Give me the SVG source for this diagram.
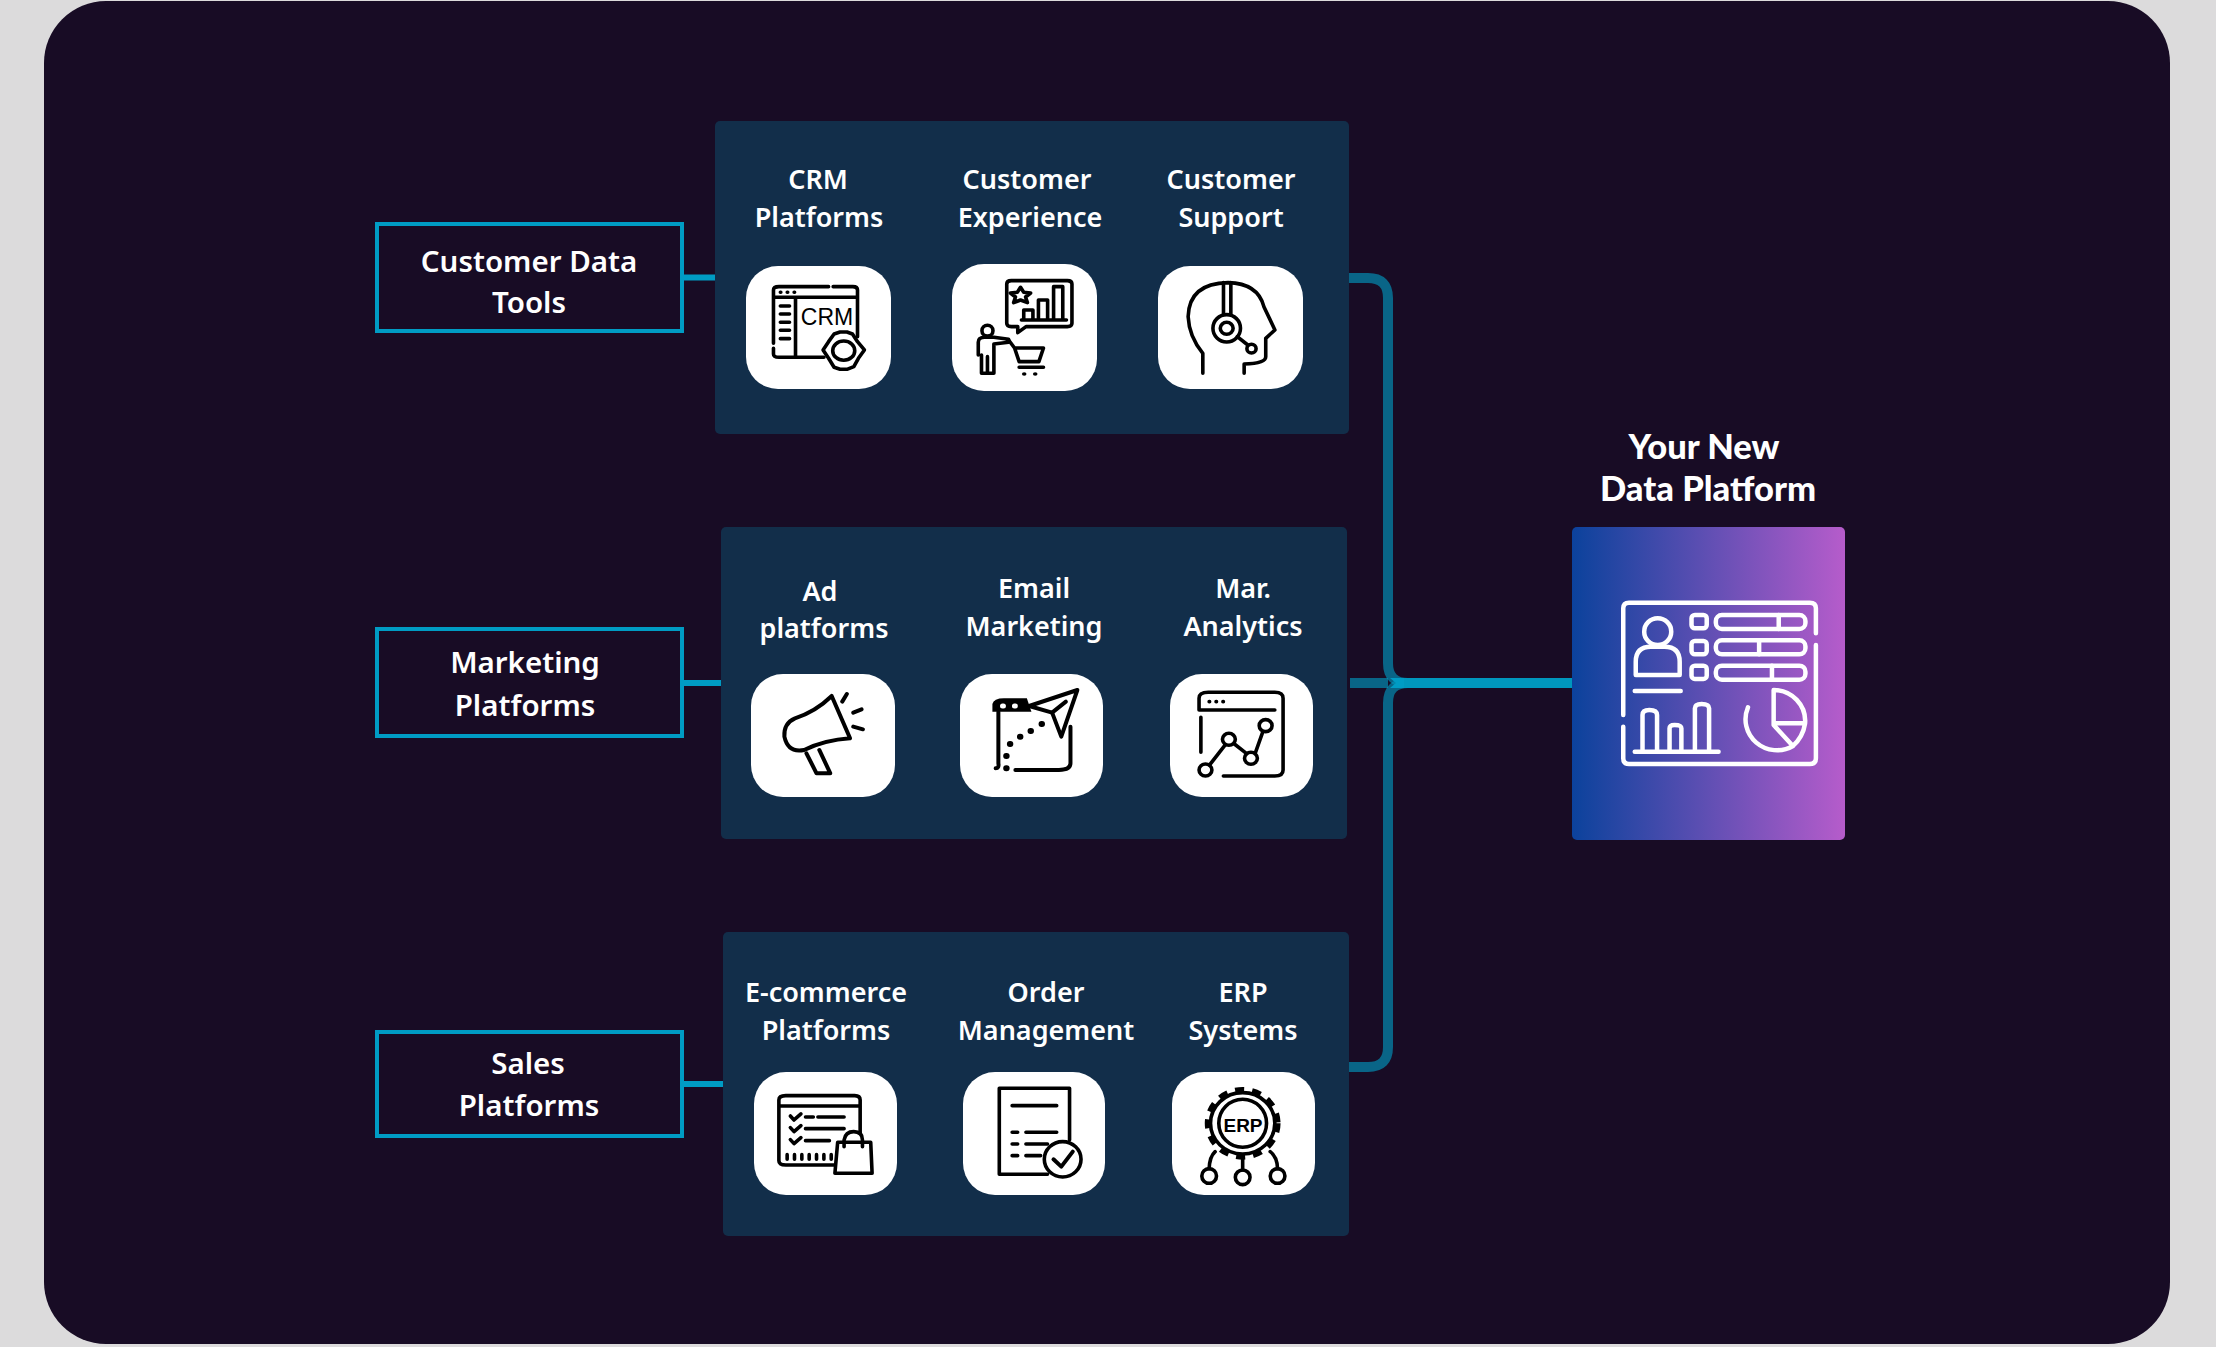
<svg xmlns="http://www.w3.org/2000/svg" width="2216" height="1347" viewBox="0 0 2216 1347">
<style>
.panel{fill:#122e4a}
.tile{fill:#fff}
.lbl{font-family:"Noto Sans","Liberation Sans",sans-serif;font-weight:600;font-size:27px;fill:#fff;text-anchor:middle}
.big{font-family:"Noto Sans","Liberation Sans",sans-serif;font-weight:600;font-size:29.500px;fill:#fff;text-anchor:middle}
.ttl{font-family:Lato,"Liberation Sans",sans-serif;font-weight:900;font-size:34.500px;fill:#fff;text-anchor:middle}
.src{fill:#180c25;stroke:#009cc4;stroke-width:4}
.stub{fill:#009cc4}
.ic *{fill:none;stroke:#000;stroke-width:3.600;stroke-linecap:round;stroke-linejoin:round;vector-effect:non-scaling-stroke}
.ic .w{fill:#fff}
.ic .k{fill:#000;stroke:none}
.di *{fill:none;stroke:#fff;stroke-width:4.500;stroke-linecap:round;stroke-linejoin:round;vector-effect:non-scaling-stroke}
.it{font-family:"Liberation Sans",sans-serif;fill:#000;text-anchor:middle}
.dim{fill:none;stroke:#009cc4;stroke-opacity:.62;stroke-width:10}
</style>
<defs>
<linearGradient id="grad" x1="0" y1="0" x2="1" y2="0"><stop offset="0" stop-color="#0b429c"/><stop offset="1" stop-color="#b65ccb"/></linearGradient>
</defs>
<rect width="2216" height="1347" fill="#dcdbdc"/>
<rect x="44" y="1" width="2126" height="1343" rx="62" fill="#180c25"/>

<g id="connectors">
<rect class="stub" x="684" y="274.500" width="31" height="6"/>
<rect class="stub" x="684" y="680" width="37" height="6"/>
<rect class="stub" x="684" y="1081" width="39" height="6"/>
<path class="dim" d="M1348 278H1368Q1388 278 1388 298V663Q1388 683 1408 683"/>
<path class="dim" d="M1349 1067H1368Q1388 1067 1388 1047V703Q1388 683 1408 683"/>
<path class="dim" d="M1350 683H1388"/>
<path d="M1390 678H1406V688H1390L1396 683Z" fill="#009cc4"/>
<rect x="1404" y="678" width="168" height="10" fill="#0097bd"/>
</g>

<g id="src-customer"><rect class="src" x="377" y="224" width="305" height="107"/><text class="big" x="529" y="272">Customer Data</text><text class="big" x="529" y="313">Tools</text></g>
<g id="src-marketing"><rect class="src" x="377" y="629" width="305" height="107"/><text class="big" x="525" y="673">Marketing</text><text class="big" x="525" y="716">Platforms</text></g>
<g id="src-sales"><rect class="src" x="377" y="1032" width="305" height="104"/><text class="big" x="528" y="1074">Sales</text><text class="big" x="529" y="1116">Platforms</text></g>

<g id="panel-customer">
<rect class="panel" x="715" y="121" width="634" height="313" rx="5"/>
<text class="lbl" x="818" y="189">CRM</text><text class="lbl" x="819" y="227">Platforms</text>
<text class="lbl" x="1027" y="189">Customer</text><text class="lbl" x="1030" y="227">Experience</text>
<text class="lbl" x="1231" y="189">Customer</text><text class="lbl" x="1231" y="227">Support</text>
<rect class="tile" x="746" y="266" width="145" height="123" rx="32"/>
<rect class="tile" x="952" y="264" width="145" height="127" rx="32"/>
<rect class="tile" x="1158" y="266" width="145" height="123" rx="32"/>
</g>
<g id="icon-crm" class="ic" transform="translate(700,110) scale(.4592,.3333)">
<path d="M160 700V540Q160 530 172 530H280M290 530H333Q343 530 343 540V680M160 715V732Q160 742 172 742H270M160 562H343M208 562V742M175 588H195M175 612H195M175 637H195M175 661H195M175 686H195"/>
<path d="M175 547h1M190 547h1M205 547h1"/>
<path class="w" d="M292 672L305 666L320 666L332 672L343 695L358 720L345 745L335 770L320 778L305 778L292 772L280 745L268 720L280 695Z"/>
<ellipse cx="313" cy="722" rx="24" ry="29"/>
</g>
<text class="it" x="827" y="325" font-size="23">CRM</text>
<g id="icon-cx" class="ic" transform="translate(700,110) scale(.4592,.3333)">
<path d="M678 512H800Q810 512 810 522V640Q810 650 800 650H710L692 668V650H678Q668 650 668 640V522Q668 512 678 512Z"/>
<path d="M698 532L705 547L720 549L709 561L713 578L698 570L683 578L687 561L676 549L691 547Z"/>
<path d="M705 628V600H725V628M737 628V570H757V628M770 628V530H790V628M700 630H798"/>
<ellipse cx="626" cy="662" rx="12" ry="16"/>
<path d="M606 735V697Q606 682 620 682H640L672 688L672 697L640 702V790H613V735M626 740V790"/>
<path d="M672 690L685 714H748L738 755H695L685 714M695 772H748"/>
<ellipse class="k" cx="706" cy="792" rx="5" ry="5"/><ellipse class="k" cx="730" cy="792" rx="5" ry="5"/>
</g>
<g id="icon-support" class="ic" transform="translate(700,110) scale(.4592,.3333)">
<path d="M1095 790V730Q1065 680 1063 620Q1065 520 1150 518Q1215 520 1228 590L1252 660L1232 685V740Q1232 760 1185 762V790"/>
<path d="M1140 518V615M1156 518V615"/>
<ellipse class="w" cx="1147" cy="655" rx="30" ry="41"/><ellipse cx="1147" cy="655" rx="14" ry="18"/>
<path d="M1170 680L1193 705"/><ellipse cx="1201" cy="716" rx="10" ry="13"/>
</g>

<g id="panel-marketing">
<rect class="panel" x="721" y="527" width="626" height="312" rx="5"/>
<text class="lbl" x="820" y="601">Ad</text><text class="lbl" x="824" y="638">platforms</text>
<text class="lbl" x="1034" y="598">Email</text><text class="lbl" x="1034" y="636">Marketing</text>
<text class="lbl" x="1243" y="598">Mar.</text><text class="lbl" x="1243" y="636">Analytics</text>
<rect class="tile" x="751" y="674" width="144" height="123" rx="32"/>
<rect class="tile" x="960" y="674" width="143" height="123" rx="32"/>
<rect class="tile" x="1170" y="674" width="143" height="123" rx="32"/>
</g>
<g id="icon-ad" class="ic" transform="translate(710,520) scale(.4592,.3333)">
<path style="stroke-width:4" d="M265 528L305 655Q250 660 205 690Q170 700 162 650Q160 610 185 595Q230 575 265 528Z"/>
<path style="stroke-width:4" d="M210 700L232 760H262L238 690M298 522L288 545M330 568L312 578M333 628L312 620"/>
</g>
<g id="icon-email" class="ic" transform="translate(710,520) scale(.4592,.3333)">
<path class="k" d="M615 575V552Q618 535 640 535H690L700 575Z"/>
<path style="stroke:#fff;stroke-width:5" d="M637 558h2M663 558h2"/>
<path style="stroke-width:4" d="M628 575V730Q630 745 622 745M785 620V730Q785 750 760 750H665"/>
<path style="stroke-width:4" class="w" d="M800 510L695 558L745 578L765 650Z"/><path style="stroke-width:4" d="M745 578L775 545"/>
<path style="stroke-width:6" d="M722 612h1M698 633h1M675 650h1M653 672h1M645 708h1M645 745h1"/>
</g>
<g id="icon-analytics" class="ic" transform="translate(710,520) scale(.4592,.3333)">
<path d="M1065 570V535Q1065 517 1085 517H1230Q1248 517 1248 535V750Q1248 768 1230 768H1118M1065 570H1230M1069 592V697M1087 545h1M1102 545h1M1117 545h1"/>
<path d="M1088 735L1122 675M1142 672L1168 700M1188 697L1204 635"/>
<ellipse cx="1079" cy="750" rx="14" ry="18"/><ellipse cx="1130" cy="658" rx="14" ry="18"/><ellipse cx="1178" cy="715" rx="14" ry="18"/><ellipse cx="1210" cy="617" rx="14" ry="18"/>
</g>

<g id="panel-sales">
<rect class="panel" x="723" y="932" width="626" height="304" rx="5"/>
<text class="lbl" x="826" y="1002">E-commerce</text><text class="lbl" x="826" y="1040">Platforms</text>
<text class="lbl" x="1046" y="1002">Order</text><text class="lbl" x="1046" y="1040">Management</text>
<text class="lbl" x="1243" y="1002">ERP</text><text class="lbl" x="1243" y="1040">Systems</text>
<rect class="tile" x="754" y="1072" width="143" height="123" rx="32"/>
<rect class="tile" x="963" y="1072" width="142" height="123" rx="32"/>
<rect class="tile" x="1172" y="1072" width="143" height="123" rx="32"/>
</g>
<g id="icon-ecom" class="ic" transform="translate(710,920) scale(.4592,.3333)">
<path d="M270 735H165Q150 735 150 722V540Q150 527 165 527H315Q327 527 327 540V640M150 558H327"/>
<path d="M175 588L183 600L198 582M175 623L183 635L198 617M175 659L183 671L198 653M208 591H225M235 591H292M208 626H292M208 662H260"/>
<path d="M168 704V718M184 704V718M200 704V718M216 704V718M232 704V718M248 704V718M264 704V718"/>
<path class="w" d="M278 667H350L353 760H272Z"/>
<path d="M292 680V660Q295 635 313 635Q332 635 332 660V680"/>
</g>
<g id="icon-order" class="ic" transform="translate(710,920) scale(.4592,.3333)">
<path d="M735 763H630V505H783V660M658 557H755M658 637H670M688 637H755M658 672H670M688 672H735M658 707H670M688 707H720"/>
<ellipse class="w" cx="768" cy="718" rx="40" ry="53"/>
<path style="stroke-width:4" d="M748 718L765 740L790 695"/>
</g>
<g id="icon-erp" class="ic" transform="translate(710,920) scale(.4592,.3333)">
<ellipse cx="1160" cy="610" rx="70" ry="92"/>
<ellipse style="stroke-width:6;stroke-linecap:butt;stroke-dasharray:9 8" cx="1160" cy="610" rx="76" ry="100"/>
<ellipse cx="1160" cy="610" rx="52" ry="72"/>
<path d="M1160 718V750M1100 695Q1088 710 1087 746M1220 695Q1235 710 1236 746"/>
<ellipse cx="1087" cy="768" rx="16" ry="22"/><ellipse cx="1160" cy="772" rx="16" ry="22"/><ellipse cx="1236" cy="768" rx="16" ry="22"/>
</g>
<text class="it" x="1243" y="1132" font-size="19" font-weight="700">ERP</text>

<g id="platform">
<text class="ttl" x="1704" y="459">Your New</text><text class="ttl" x="1708" y="501">Data Platform</text>
<rect x="1572" y="527" width="273" height="313" rx="5" fill="url(#grad)"/>
<g class="di" transform="translate(1340,410) scale(.338,.3333)">
<path d="M838 915V595Q838 578 855 578H1390Q1408 578 1408 595V670M1408 705V1045Q1408 1062 1390 1062H855Q838 1062 838 1045V950"/>
<ellipse cx="940" cy="665" rx="40" ry="40"/>
<path d="M875 795V755Q875 710 920 710H960Q1005 710 1005 755V795ZM872 843H1008"/>
<rect x="1040" y="615" width="45" height="40" rx="10"/><rect x="1040" y="693" width="45" height="40" rx="10"/><rect x="1040" y="767" width="45" height="40" rx="10"/>
<rect x="1112" y="615" width="265" height="42" rx="18"/><rect x="1112" y="691" width="265" height="42" rx="18"/><rect x="1112" y="767" width="265" height="42" rx="18"/>
<path d="M1298 615V657M1240 691V733M1278 767V809"/>
<path d="M872 1025H1120M895 1025V915Q895 900 915 900Q938 900 938 915V1025M975 1025V955Q975 945 990 945Q1010 945 1010 955V1025M1050 1025V895Q1050 882 1070 882Q1092 882 1092 895V1025"/>
<path d="M1207 892A93 93 0 0 0 1340 1008L1283 945V840A93 93 0 0 1 1376 940H1283M1376 940Q1370 980 1340 1008"/>
</g>
</g>
</svg>
